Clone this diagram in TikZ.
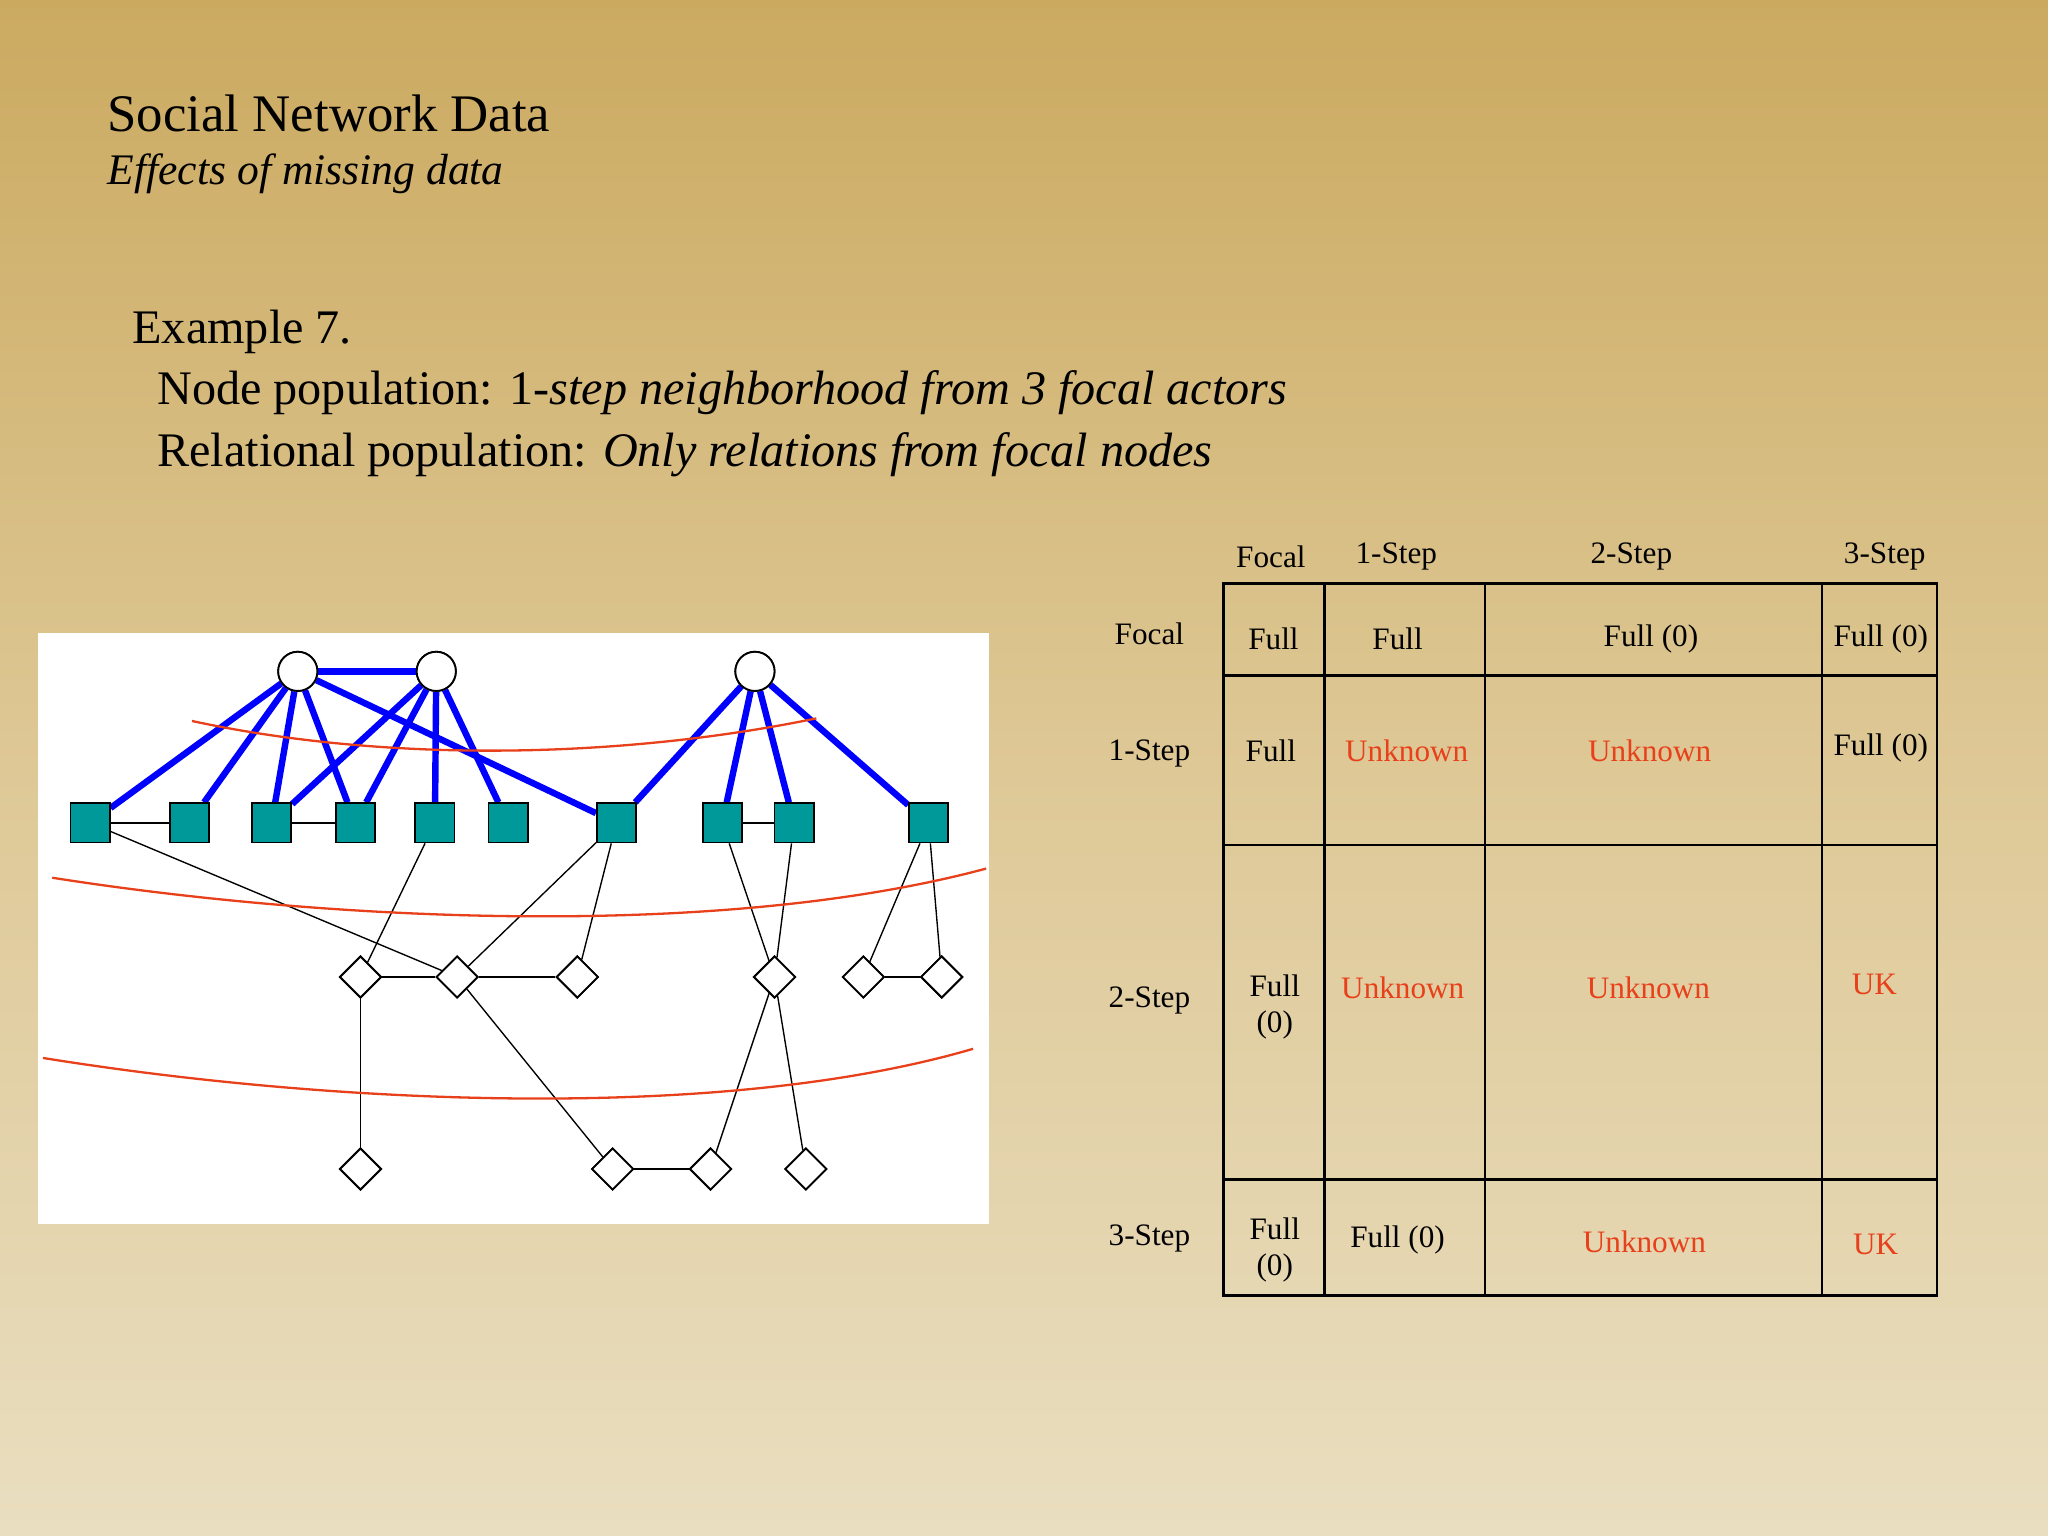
\documentclass[tikz,border=0pt]{standalone}
\usepackage{fontspec}
\setmainfont{Liberation Serif}
\usetikzlibrary{shapes.geometric}
\definecolor{teal2}{HTML}{009999}
\definecolor{redc}{HTML}{E8401A}
\begin{document}
\begin{tikzpicture}[x=0.1mm,y=-0.1mm,
 circ/.style={circle,draw,fill=white,minimum size=3mm,inner sep=0pt},
 sq/.style={rectangle,draw,fill=teal2,minimum size=3mm,inner sep=0pt},
 dia/.style={diamond,draw,fill=white,minimum size=3.2mm,inner sep=0pt},
 blue/.style={draw=blue,line width=1.4pt},
 thin/.style={draw=black,line width=0.3pt},
 redl/.style={draw=redc,line width=0.5pt},
 tt/.style={font=\fontsize{6.8}{8}\selectfont},
 rt/.style={tt,text=redc}]
\shade[top color={rgb,255:red,203;green,170;blue,96},bottom color={rgb,255:red,233;green,222;blue,192},middle color={rgb,255:red,222;green,200;blue,150}] (0,0) rectangle (1568,1176);
\useasboundingbox (0,0) rectangle (1568,1176);
\node[anchor=west,font=\fontsize{11.5}{13}\selectfont] (t1) at (70,87) {Social Network Data};
\node[anchor=west,font=\fontsize{9.5}{11}\selectfont\itshape] (t2) at (70,133) {Effects of missing data};
\node[anchor=west,font=\fontsize{10.5}{12}\selectfont] (e1) at (89,254) {Example 7.};
\node[anchor=west,font=\fontsize{10.5}{12}\selectfont] (e2) at (108,301) {Node population: 1-\textit{step neighborhood from 3 focal actors}};
\node[anchor=west,font=\fontsize{10.5}{12}\selectfont] (e3) at (108,348) {Relational population: \textit{Only relations from focal nodes}};
% panel
\fill[white] (29,485) rectangle (757,937);
\node[circ] (C1) at (228,514) {};
\node[circ] (C2) at (334,514) {};
\node[circ] (C3) at (578,514) {};
\foreach \n/\x in {S1/69,S2/145,S3/208,S4/272,S5/333,S6/389,S7/472,S8/553,S9/608,S10/711}
  \node[sq] (\n) at (\x,630) {};
\foreach \n/\x/\y in {D1/276/748,D2/350/748,D3/442/748,D4/593/748,D5/661/748,D6/721/748,D7/276/895,D8/469/895,D9/544/895,D10/617/895}
  \node[dia] (\n) at (\x,\y) {};
\begin{scope}[on background layer/.style={}]
\foreach \a/\b in {C1/C2,C1/S1,C1/S2,C1/S3,C1/S4,C1/S7,C2/S3,C2/S4,C2/S5,C2/S6,C3/S7,C3/S8,C3/S9,C3/S10}
  \draw[blue] (\a) -- (\b);
\foreach \a/\b in {S1/S2,S3/S4,S8/S9,S1/D2,S5/D1,S7/D2,S7/D3,S9/D4,S8/D4,S10/D5,S10/D6,D5/D6,D1/D2,D2/D3,D1/D7,D2/D8,D8/D9,D9/D4,D4/D10}
  \draw[thin] (\a) -- (\b);
\end{scope}
\foreach \n in {C1,C2,C3} \node[circ] at (\n) {};
\foreach \n in {S1,S2,S3,S4,S5,S6,S7,S8,S9,S10} \node[sq] at (\n) {};
\foreach \n in {D1,D2,D3,D4,D5,D6,D7,D8,D9,D10} \node[dia] at (\n) {};
\draw[redl] (147,552) .. controls (300,585) and (480,580) .. (625,550);
\draw[redl] (40,672) .. controls (250,705) and (550,720) .. (755,665);
\draw[redl] (33,810) .. controls (250,845) and (550,860) .. (745,803);
% table
\draw[line width=0.6pt] (937,447) rectangle (1483,992);
\foreach \x in {1014,1137,1395} \draw[line width=0.6pt] (\x,447) -- (\x,992);
\foreach \y in {517,647,903} \draw[line width=0.6pt] (937,\y) -- (1483,\y);
\foreach \x/\t in {973/Focal,1069/1-Step,1249/2-Step,1443/3-Step} \node[tt] at (\x,426) {\t};
\foreach \y/\t in {485/Focal,577/1-Step,766/2-Step,948/3-Step} \node[tt] at (880,\y) {\t};
\node[tt] at (975,489) {Full};
\node[tt] at (1070,489) {Full};
\node[tt] at (1264,489) {Full (0)};
\node[tt] at (1440,489) {Full (0)};
\node[tt] at (973,575) {Full};
\node[rt] at (1077,575) {Unknown};
\node[rt] at (1263,575) {Unknown};
\node[tt] at (1440,573) {Full (0)};
\node[tt,align=center] at (976,771) {Full\\(0)};
\node[rt] at (1074,756) {Unknown};
\node[rt] at (1262,756) {Unknown};
\node[rt] at (1435,754) {UK};
\node[tt,align=center] at (976,957) {Full\\(0)};
\node[tt] at (1070,949) {Full (0)};
\node[rt] at (1259,951) {Unknown};
\node[rt] at (1436,953) {UK};
\end{tikzpicture}
\end{document}
